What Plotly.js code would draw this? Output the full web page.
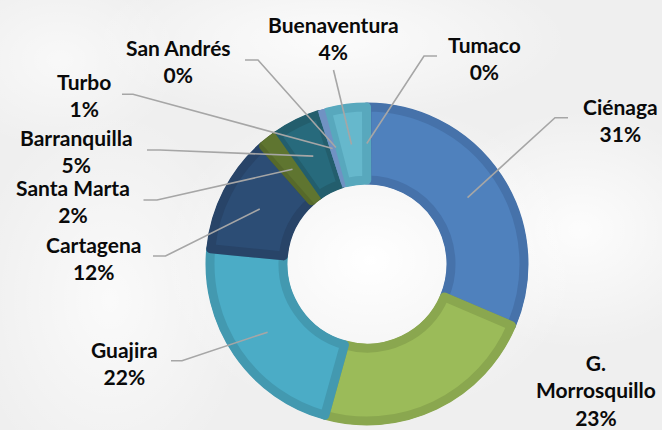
<!DOCTYPE html>
<html>
<head>
<meta charset="utf-8">
<script src="https://cdn.plot.ly/plotly-3.0.1.min.js"></script>
<style>
html,body{margin:0;padding:0;}
body{
  width:662px;height:430px;overflow:hidden;
  background:
    radial-gradient(ellipse 210px 160px at 370px 260px, rgba(255,255,255,1) 0%, rgba(255,255,255,0) 100%),
    radial-gradient(ellipse 150px 120px at 580px 230px, rgba(255,255,255,0.85) 0%, rgba(255,255,255,0) 100%),
    radial-gradient(ellipse 140px 190px at 110px 300px, rgba(255,255,255,0.7) 0%, rgba(255,255,255,0) 100%),
    radial-gradient(ellipse 240px 80px at 330px 40px, rgba(255,255,255,0.8) 0%, rgba(255,255,255,0) 100%),
    radial-gradient(ellipse 120px 90px at 60px 60px, rgba(255,255,255,0.6) 0%, rgba(255,255,255,0) 100%),
    #efefef;
}
#chart{width:662px;height:430px;}
</style>
</head>
<body>
<div id="chart"></div>
<script>
// ---- data ----
const categories = ['Ciénaga','G. Morrosquillo','Guajira','Cartagena','Santa Marta','Barranquilla','Turbo','San Andrés','Buenaventura','Tumaco'];
const values = [31.4, 22.9, 22.2, 12.0, 1.7, 4.8, 0.7, 0.2, 4.0, 0.05];

// ---- styles ----
const fillColors = ['#4f81bd','#9bbb59','#4bacc6','#2c4d75','#5f7530','#276a7c','#7092c3','#6a8fc0','#66b8cc','#5aa9be'];
const edgeColors = ['#4672aa','#8aa74f','#4399b0','#284468','#56692b','#235e6d','#6583b0','#6a8fc0','#58a8bd','#58a8bd'];
const edgeWidths = [9, 9, 9, 9, 9, 9, 0, 0, 9, 0];
const overlayOn  = [false,false,false,false,true,false,true,false,false,false];

// layout geometry (pixels)
const W = 662, H = 430;
const cx = 367, cy = 264, R = 161, r = 80, inset = 4;

// label centres and leader-line starts (pixels)
const labelPos = [
  [620, 120.5], [596, 390], [124.5, 362.5], [93, 257.5], [73, 201],
  [76, 151], [83.6, 95.5], [178, 61.5], [333.5, 37.5], [484.6, 57.5]
];
const leaderStart = [
  [[568,117.7],[555,117.7]], null, [[171,360.7],[182,360.7]], [[153,256],[165.5,256]],
  [[143.5,200],[157,200]], [[147,150],[160,150]], [[122,94.3],[133,94.3]],
  [[245,60],[258,60]], [[333.5,70],[333.5,70]], [[437,56],[424,56]]
];

const px = x => x / W;
const py = y => 1 - y / H;

function domainFor(rad) {
  return {
    x: [px(cx - rad), px(cx + rad)],
    y: [py(cy + rad), py(cy - rad)]
  };
}

const common = {
  type: 'pie', labels: categories, values: values, sort: false,
  direction: 'clockwise', rotation: 0, textinfo: 'none',
  hoverinfo: 'label+percent', showlegend: false
};

const traceA = Object.assign({}, common, {
  domain: domainFor(R), hole: r / R,
  marker: { colors: edgeColors, line: { width: 0 } }
});
const RB = R - inset, rB = r + inset;
const traceB = Object.assign({}, common, {
  domain: domainFor(RB), hole: rB / RB,
  marker: { colors: fillColors, line: { color: edgeColors, width: edgeWidths } }
});
const traceC = Object.assign({}, common, {
  domain: domainFor(R), hole: r / R,
  marker: { colors: fillColors.map((c, i) => overlayOn[i] ? c : 'rgba(0,0,0,0)'), line: { width: 0 } }
});

// leader lines and labels from data
const total = values.reduce((a, b) => a + b, 0);
const rm = (R + r) / 2;
let cum = 0;
const shapes = [], annotations = [];
values.forEach((v, i) => {
  const mid = (cum + v / 2) / total;
  cum += v;
  const th = 2 * Math.PI * mid;
  const ex = cx + rm * Math.sin(th), ey = cy - rm * Math.cos(th);
  const pct = Math.round(v / total * 100);
  const name = categories[i].replace('G. ', 'G.<br>');
  annotations.push({
    x: px(labelPos[i][0]), y: py(labelPos[i][1]), xref: 'paper', yref: 'paper',
    xanchor: 'center', yanchor: 'middle', showarrow: false, align: 'center',
    text: name + '<br>' + pct + '%',
    font: { family: 'Lato, "Open Sans", sans-serif', size: 21, color: '#0a0a0a', weight: 700 }
  });
  if (leaderStart[i]) {
    const [s, e] = leaderStart[i];
    shapes.push({
      type: 'path', xref: 'paper', yref: 'paper',
      path: `M ${px(s[0])},${py(s[1])} L ${px(e[0])},${py(e[1])} L ${px(ex)},${py(ey)}`,
      line: { color: '#a6a6a6', width: 1.6 }
    });
  }
});

const layout = {
  width: W, height: H,
  margin: { l: 0, r: 0, t: 0, b: 0 },
  paper_bgcolor: 'rgba(0,0,0,0)', plot_bgcolor: 'rgba(0,0,0,0)',
  showlegend: false, shapes: shapes, annotations: annotations
};

Plotly.newPlot('chart', [traceA, traceB, traceC], layout, { displayModeBar: false, staticPlot: true });
</script>
</body>
</html>
